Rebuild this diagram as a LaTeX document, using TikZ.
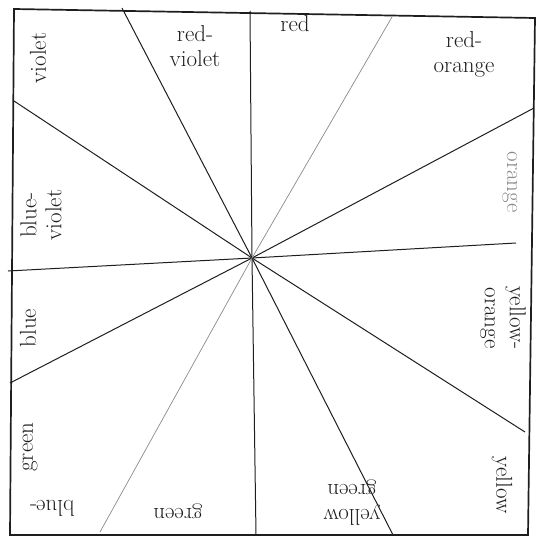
\documentclass[tikz,border=0pt]{standalone}
\definecolor{pencil}{HTML}{1E1E1E}
\definecolor{faint}{HTML}{8A8A8A}

\begin{document}
\begin{tikzpicture}[x=1pt, y=-1pt, line width=1pt,
    hue/.style={font=\fontsize{23}{25}\selectfont, align=center, inner sep=0pt, text=pencil}]
  \useasboundingbox (0,0) rectangle (539,546);
  % frame
  \draw[pencil, line width=1.7pt] (14,9) -- (535,18) -- (528,535) -- (10,535) -- cycle;
  % spokes
  \coordinate (hub) at (252,258);
  \foreach \x/\y in {250/11, 122/8, 14/101, 8/271, 10/383, 256/535, 393/535, 525/432, 516/243, 534/108}
    \draw[pencil] (hub) -- (\x,\y);
  \foreach \x/\y in {392/17, 100/532}
    \draw[faint, line width=0.7pt] (hub) -- (\x,\y);
  % labels
  \node[hue, rotate=90] (violet) at (38,58) {violet};
  \node[hue] (redviolet) at (195,46) {red-\\violet};
  \node[hue] (red) at (295,24) {red};
  \node[hue] (redorange) at (464,54) {red-\\orange};
  \node[hue, rotate=-90, text=faint] (orange) at (510,182) {orange};
  \node[hue, rotate=-90] (yelloworange) at (503,318) {yellow-\\orange};
  \node[hue, rotate=-90] (yellow) at (502,485) {yellow};
  \node[hue, rotate=180] (yellowgreen) at (352,503) {yellow\\green};
  \node[hue, rotate=180] (green) at (178,511) {green};
  \node[hue, rotate=180] (bluedash) at (52,508) {blue-};
  \node[hue, rotate=90] (bluegreen) at (30,447) {green};
  \node[hue, rotate=90] (blue) at (28,328) {blue};
  \node[hue, rotate=90] (blueviolet) at (41,215) {blue-\\violet};
\end{tikzpicture}
\end{document}
